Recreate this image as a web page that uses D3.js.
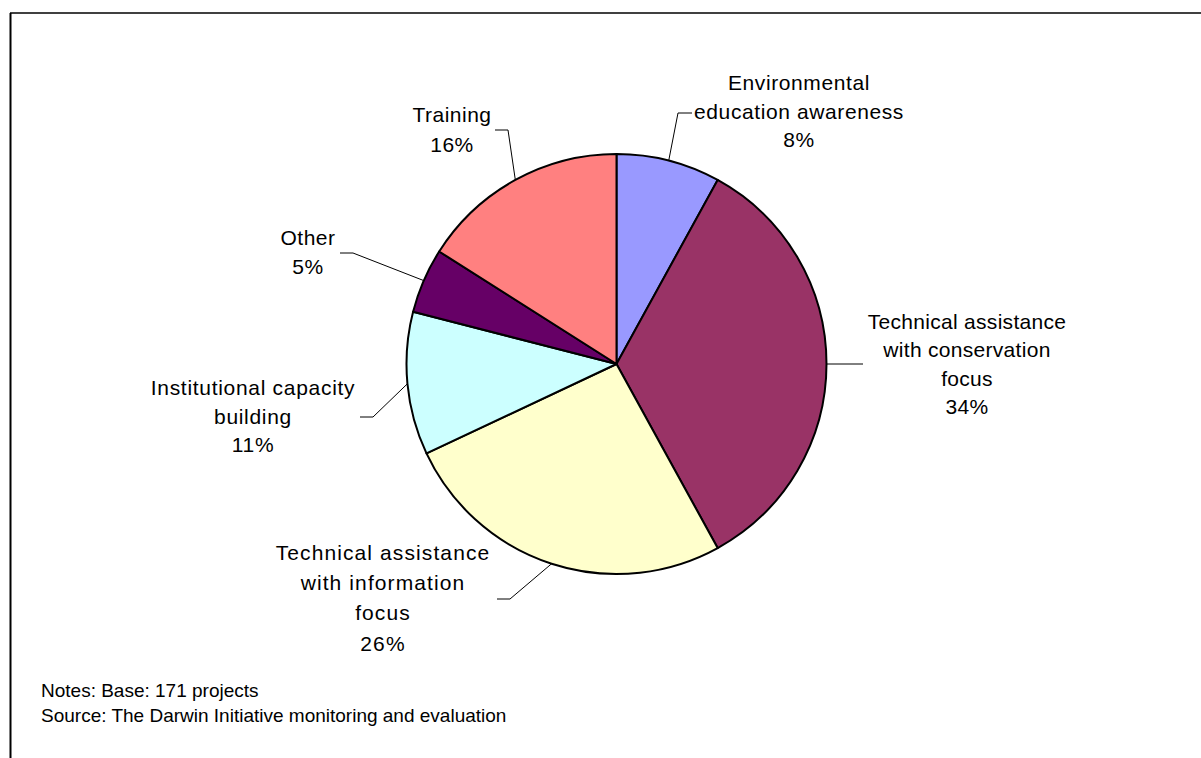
<!DOCTYPE html>
<html>
<head>
<meta charset="utf-8">
<script src="https://cdn.jsdelivr.net/npm/d3@7"></script>
<style>
  html, body { margin: 0; padding: 0; background: #fff; }
  svg { display: block; }
  text { font-family: "Liberation Sans", Arial, sans-serif; fill: #000; }
</style>
</head>
<body>
<svg id="chart" width="1201" height="758"></svg>
<script>
// ---- data ----
const categories = [
  "Environmental education awareness",
  "Technical assistance with conservation focus",
  "Technical assistance with information focus",
  "Institutional capacity building",
  "Other",
  "Training"
];
const values = [8, 34, 26, 11, 5, 16];
const labelLines = [
  ["Environmental", "education awareness"],
  ["Technical assistance", "with conservation", "focus"],
  ["Technical assistance", "with information", "focus"],
  ["Institutional capacity", "building"],
  ["Other"],
  ["Training"]
];
const colors = ["#9999FF", "#993366", "#FFFFCC", "#CCFFFF", "#660066", "#FF8080"];
const notes = ["Notes: Base: 171 projects", "Source: The Darwin Initiative monitoring and evaluation"];

// ---- layout (label placement, not data) ----
const labelLayout = [
  { cx: 799, y0: 90,  lh: 28.6, ls: 0.6, elbow: [678, 113], end: [692, 113] },
  { cx: 967, y0: 329, lh: 28.4, ls: 0.3, elbow: null,       end: [863, 364] },
  { cx: 383, y0: 560, lh: 30.2, ls: 1.1, elbow: [510, 599], end: [497, 599] },
  { cx: 253, y0: 395, lh: 28.6, ls: 0.7, elbow: [373, 417], end: [360, 417] },
  { cx: 308, y0: 245, lh: 28.6, ls: 0.5, elbow: [353, 253], end: [340, 253] },
  { cx: 452, y0: 122, lh: 29.6, ls: 0.5, elbow: [508, 130], end: [495, 130] }
];

const svg = d3.select("#chart");
const cx = 616.5, cy = 364, r = 210;

// frame
svg.append("line").attr("x1", 10).attr("y1", 13).attr("x2", 1201).attr("y2", 13)
  .attr("stroke", "#000").attr("stroke-width", 1.5);
svg.append("line").attr("x1", 10.5).attr("y1", 13).attr("x2", 10.5).attr("y2", 758)
  .attr("stroke", "#000").attr("stroke-width", 2);

const pie = d3.pie().sort(null).value(d => d);
const arcs = pie(values);
const arc = d3.arc().innerRadius(0).outerRadius(r);

const g = svg.append("g").attr("transform", `translate(${cx},${cy})`);
g.selectAll("path.slice").data(arcs).enter().append("path")
  .attr("class", "slice")
  .attr("d", arc)
  .attr("fill", (d, i) => colors[i])
  .attr("stroke", "#000")
  .attr("stroke-width", 2)
  .attr("stroke-linejoin", "round");

// leader lines
arcs.forEach((a, i) => {
  const mid = (a.startAngle + a.endAngle) / 2;
  const px = cx + r * Math.sin(mid), py = cy - r * Math.cos(mid);
  const L = labelLayout[i];
  const pts = [[px, py]];
  if (L.elbow) pts.push(L.elbow);
  pts.push(L.end);
  svg.append("path")
    .attr("d", d3.line()(pts))
    .attr("fill", "none").attr("stroke", "#000").attr("stroke-width", 1);
});

// labels
const fmt = d3.format(".0f");
arcs.forEach((a, i) => {
  const L = labelLayout[i];
  const lines = labelLines[i].concat([fmt(values[i]) + "%"]);
  const t = svg.append("text").attr("text-anchor", "middle")
    .style("font-size", "21px").style("letter-spacing", L.ls + "px");
  lines.forEach((s, k) => {
    t.append("tspan").attr("x", L.cx).attr("y", L.y0 + k * L.lh).text(s);
  });
});

// notes
notes.forEach((s, k) => {
  svg.append("text").attr("x", 41).attr("y", 697 + k * 24.5)
    .style("font-size", "19px").text(s);
});
</script>
</body>
</html>
